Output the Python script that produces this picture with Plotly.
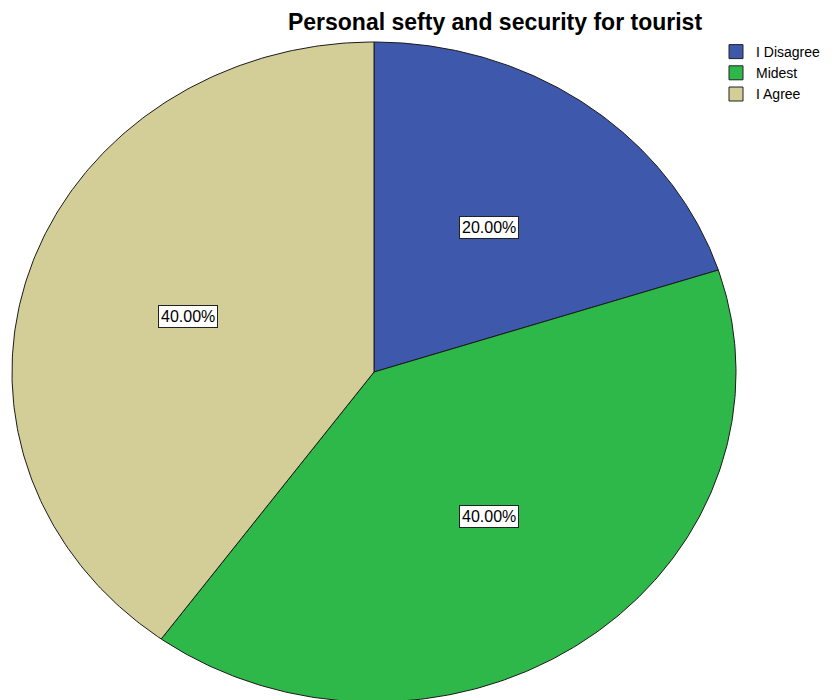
import numpy as np
import plotly.graph_objects as go

# Survey answers, clockwise from 12 o'clock
categories = ["I Disagree", "Midest", "I Agree"]
percentages = [20.0, 40.0, 40.0]
colors = ["#3E58AC", "#2EB84A", "#D3CE97"]
title_text = "Personal sefty and security for tourist"

W, H = 838, 700
# Elliptical pie geometry in pixel space
cx, cy = 374, 372
rx, ry = 362, 330
label_frac = 0.54

fig = go.Figure()

total = sum(percentages)
start = 0.0
for name, pct, col in zip(categories, percentages, colors):
    a0 = start / total * 2 * np.pi
    a1 = (start + pct) / total * 2 * np.pi
    t = np.linspace(a0, a1, 200)
    xs = np.concatenate([[cx], cx + rx * np.sin(t), [cx]])
    ys = np.concatenate([[cy], cy - ry * np.cos(t), [cy]])
    fig.add_trace(go.Scatter(
        x=xs, y=ys, mode="lines", fill="toself", fillcolor=col,
        line=dict(color="#1a1a1a", width=1), showlegend=False,
        hoverinfo="skip",
    ))
    am = (a0 + a1) / 2
    fig.add_annotation(
        x=cx + label_frac * rx * np.sin(am),
        y=cy - label_frac * ry * np.cos(am),
        text=f"{pct:.2f}%", showarrow=False,
        font=dict(family="Liberation Sans, Arial", size=16, color="black"),
        bgcolor="white", bordercolor="#222222", borderwidth=1, borderpad=2,
    )
    start += pct

# Legend entries
for name, col in zip(categories, colors):
    fig.add_trace(go.Scatter(
        x=[None], y=[None], mode="markers", name=name,
        marker=dict(symbol="square", size=14, color=col,
                    line=dict(color="#222222", width=1)),
    ))

fig.update_layout(
    width=W, height=H,
    margin=dict(l=0, r=0, t=0, b=0),
    paper_bgcolor="white", plot_bgcolor="white",
    title=dict(text=f"<b>{title_text}</b>", x=495 / W, xanchor="center",
               y=1 - 22 / H, yanchor="middle", yref="container",
               font=dict(family="Liberation Sans, Arial", size=23, color="black")),
    xaxis=dict(range=[0, W], visible=False, fixedrange=True),
    yaxis=dict(range=[H, 0], visible=False, fixedrange=True),
    legend=dict(x=716 / W, y=1 - 36 / H, xanchor="left", yanchor="top",
                font=dict(family="Liberation Sans, Arial", size=14, color="black"),
                itemwidth=30, tracegroupgap=0, bgcolor="rgba(0,0,0,0)"),
    showlegend=True,
)

fig.write_html("out.html")
